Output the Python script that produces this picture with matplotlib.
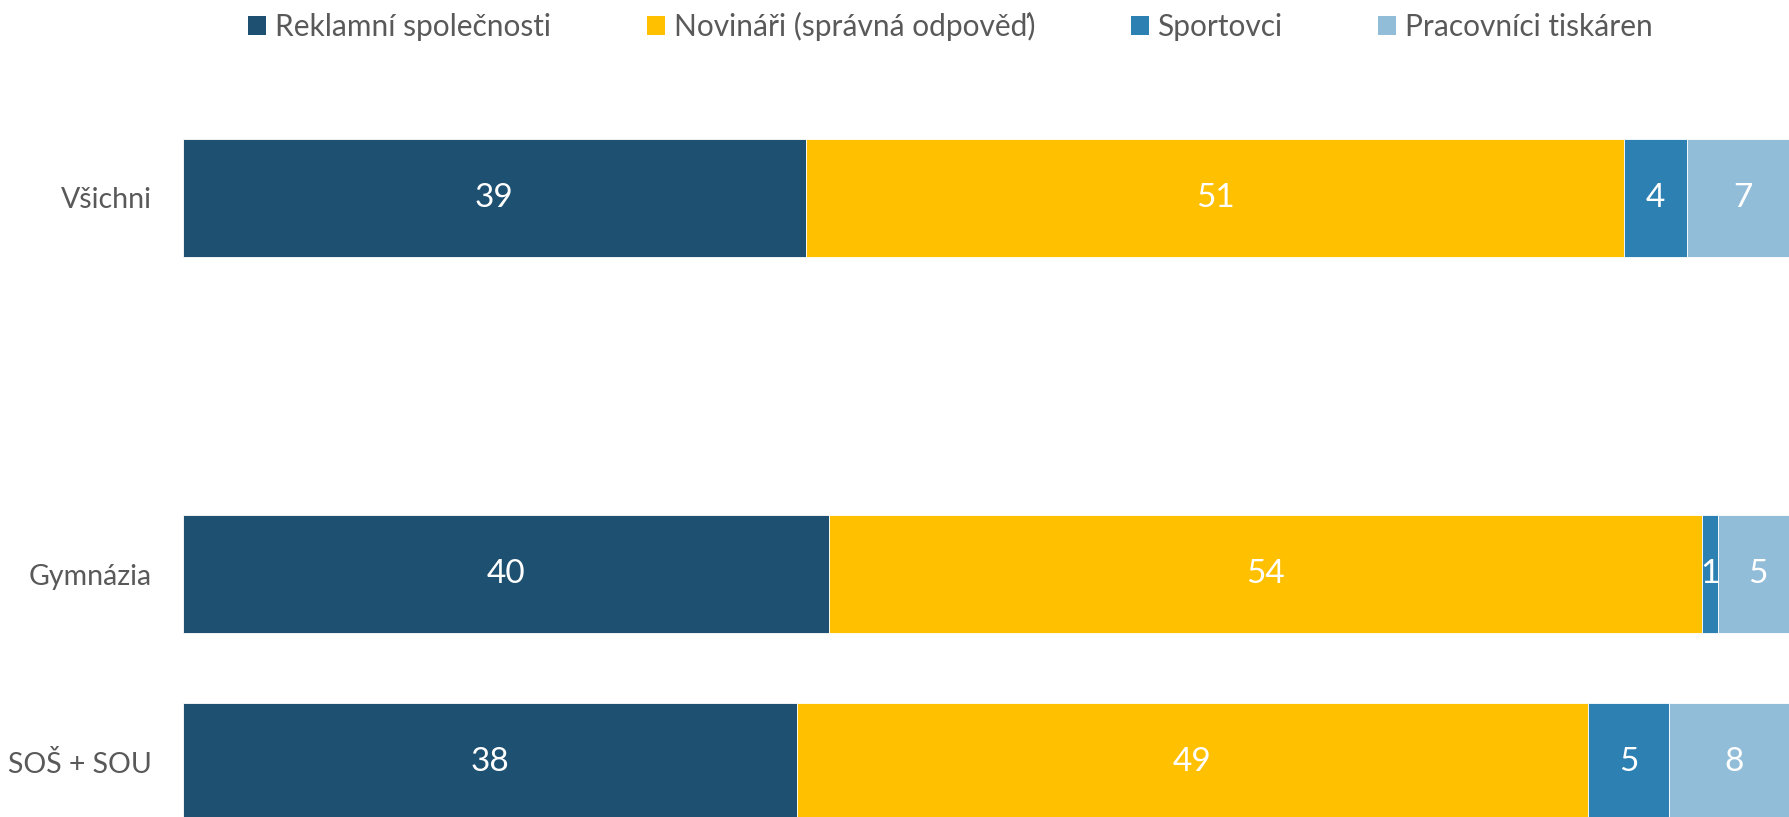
import matplotlib
matplotlib.use("Agg")
import matplotlib.pyplot as plt
from matplotlib.patches import Patch
import numpy as np

plt.rcParams['font.family'] = ['Lato', 'DejaVu Sans']

categories = ["Všichni", "", "Gymnázia", "SOŠ + SOU"]
series_names = ["Reklamní společnosti", "Novináři (správná odpověď)", "Sportovci", "Pracovníci tiskáren"]
reklamni = [38.6, np.nan, 40.0, 38.0]
novinari = [50.6, np.nan, 54.0, 49.0]
sportovci = [3.9, np.nan, 1.0, 5.0]
pracovnici = [6.9, np.nan, 5.0, 8.0]
colors = ["#1D5071", "#FFC000", "#2C80B2", "#92BDD8"]
text_gray = "#595959"

W, H = 1789, 817
fig = plt.figure(figsize=(W / 100, H / 100), dpi=100)

# axes geometry (pixels)
left_px, plot_w_px = 182.5, 1616.0
c0_px, step_px = 198.0, 188.0
ax = fig.add_axes([left_px / W, 0, plot_w_px / W, 1])
y_top = -c0_px / step_px
y_bot = (H - c0_px) / step_px
ax.set_ylim(y_bot, y_top)
ax.set_xlim(0, 100)

ypos = np.arange(len(categories))
series = [reklamni, novinari, sportovci, pracovnici]
left = np.zeros(len(categories))
for name, vals, col in zip(series_names, series, colors):
    v = np.array(vals, dtype=float)
    vv = np.nan_to_num(v)
    ax.barh(ypos, vv, left=left, height=0.625, color=col,
            edgecolor="white", linewidth=0.6, label=name)
    for yi, (l, w, raw) in enumerate(zip(left, vv, v)):
        if np.isnan(raw):
            continue
        ax.text(l + w / 2, yi, f"{raw:.0f}", ha="center", va="center",
                color="white", fontsize=24)
    left += vv

ax.set_yticks(ypos)
ax.set_yticklabels(categories, fontsize=20.5, color=text_gray)
ax.tick_params(axis="y", length=0, pad=22)
ax.set_xticks([])
for s in ax.spines.values():
    s.set_visible(False)

handles = [Patch(facecolor=c, edgecolor="none") for c in colors]
fig.legend(handles, series_names, loc="center", bbox_to_anchor=(0.5 + 56 / W, 1 - 26 / H),
           ncol=4, frameon=False, fontsize=21.5, labelcolor=text_gray,
           handlelength=0.6, handleheight=0.6, handletextpad=0.3,
           columnspacing=3.2)

fig.savefig("out.png", dpi=100)
